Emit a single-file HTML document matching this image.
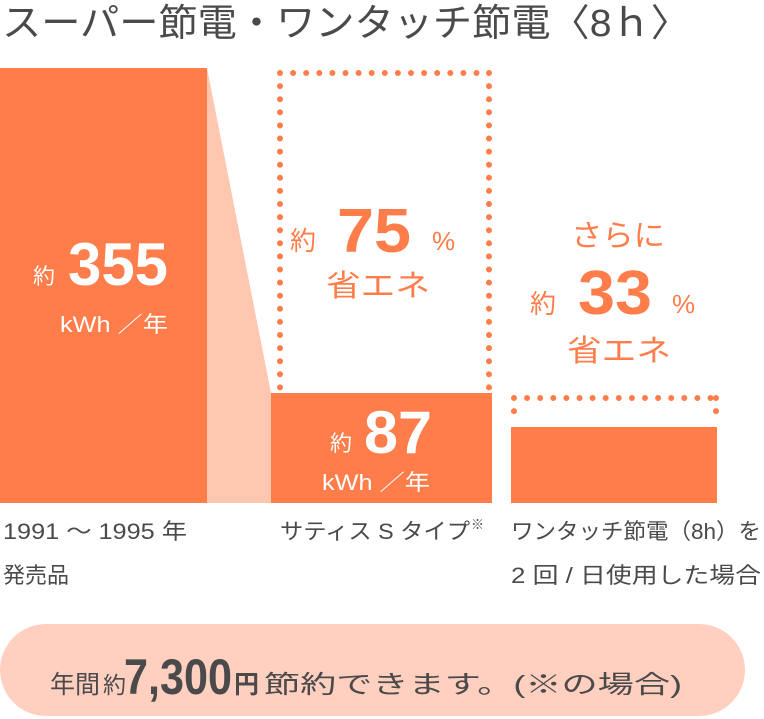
<!DOCTYPE html>
<html><head><meta charset="utf-8"><style>
html,body{margin:0;padding:0;background:#fff;width:764px;height:719px;overflow:hidden}
svg text{font-family:"Liberation Sans","Noto Sans CJK JP",sans-serif}
</style></head><body>
<svg width="764" height="719" viewBox="0 0 764 719" xmlns="http://www.w3.org/2000/svg">
<text x="2" y="36" font-size="38" fill="#4a4a4a" textLength="688" lengthAdjust="spacingAndGlyphs">スーパー節電・ワンタッチ節電〈8ｈ〉</text>
<polygon points="207,68 271,393 271,503 207,503" fill="#FFC6B0"/>
<rect x="0" y="68" width="207" height="435" fill="#FF7D4A"/>
<rect x="271" y="393" width="221" height="110" fill="#FF7D4A"/>
<rect x="511" y="427" width="206" height="76" fill="#FF7D4A"/>
<g stroke="#FF7D4A" stroke-width="6" stroke-linecap="round" stroke-dasharray="0 13.1" fill="none">
<path d="M280,73 H489 M280,73 V390 M489,73 V390"/>
<path d="M514,398 H716 M514,398 V418 M716,398 V418"/>
</g>
<g fill="#fff">
<text x="33" y="284" font-size="22">約</text>
<text x="68" y="285" font-size="60" font-weight="bold" textLength="100" lengthAdjust="spacingAndGlyphs">355</text>
<text x="60" y="332" font-size="22" textLength="108" lengthAdjust="spacingAndGlyphs">kWh ／年</text>
<text x="330" y="451" font-size="22">約</text>
<text x="364" y="453" font-size="60" font-weight="bold" textLength="68" lengthAdjust="spacingAndGlyphs">87</text>
<text x="322" y="490" font-size="22" textLength="108" lengthAdjust="spacingAndGlyphs">kWh ／年</text>
</g>
<g fill="#FF7D4A">
<text x="290" y="250" font-size="26">約</text>
<text x="337" y="252" font-size="62" font-weight="bold" textLength="74" lengthAdjust="spacingAndGlyphs">75</text>
<text x="432" y="250" font-size="26">%</text>
<text x="326" y="296" font-size="30" textLength="104" lengthAdjust="spacingAndGlyphs">省エネ</text>
<text x="571" y="246" font-size="30" textLength="94" lengthAdjust="spacingAndGlyphs">さらに</text>
<text x="530" y="313" font-size="26">約</text>
<text x="578" y="314" font-size="62" font-weight="bold" textLength="74" lengthAdjust="spacingAndGlyphs">33</text>
<text x="672" y="313" font-size="26">%</text>
<text x="567" y="361" font-size="30" textLength="104" lengthAdjust="spacingAndGlyphs">省エネ</text>
</g>
<g fill="#4a4a4a" font-size="22">
<text x="3" y="539" textLength="184" lengthAdjust="spacingAndGlyphs">1991 ～ 1995 年</text>
<text x="3" y="583">発売品</text>
<text x="280" y="539" textLength="190" lengthAdjust="spacingAndGlyphs">サティス S タイプ</text>
<text x="471" y="529" font-size="13">※</text>
<text x="511" y="539" textLength="250" lengthAdjust="spacingAndGlyphs">ワンタッチ節電（8h）を</text>
<text x="511" y="583" textLength="250" lengthAdjust="spacingAndGlyphs">2 回 / 日使用した場合</text>
</g>
<rect x="0" y="624" width="745" height="92" rx="46" fill="#FFD0C0"/>
<g fill="#4a4a4a">
<text x="50" y="693" font-size="25">年間</text>
<text x="103" y="693" font-size="23">約</text>
<text x="124" y="694" font-size="50" font-weight="bold" textLength="108" lengthAdjust="spacingAndGlyphs">7,300</text>
<text x="234" y="693" font-size="25" font-weight="bold">円</text>
<text x="264" y="693" font-size="25" textLength="418" lengthAdjust="spacingAndGlyphs">節約できます。(※の場合)</text>
</g>
</svg>
</body></html>
